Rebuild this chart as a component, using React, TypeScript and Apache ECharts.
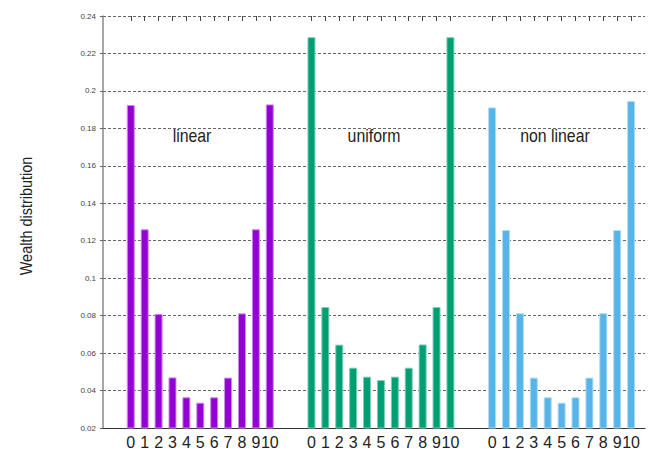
import React, { useEffect, useRef } from "react";
import * as echarts from "echarts";

const groupNames = ["linear", "uniform", "non linear"];
const yAxisTitle = "Wealth distribution";
const tickLabels = ["0", "1", "2", "3", "4", "5", "6", "7", "8", "9", "10"];
const linearValues = [0.1925, 0.1261, 0.0809, 0.047, 0.0364, 0.0335, 0.0364, 0.0469, 0.0812, 0.1261, 0.1928];
const uniformValues = [0.2287, 0.0846, 0.0645, 0.0522, 0.0474, 0.0456, 0.0474, 0.0522, 0.0646, 0.0846, 0.2287];
const nonLinearValues = [0.1912, 0.1257, 0.0813, 0.0469, 0.0364, 0.0335, 0.0364, 0.0469, 0.0813, 0.1257, 0.1946];
const yTicks = { min: 0.02, max: 0.24, step: 0.02 };
const colors = ["#9400D3", "#009E73", "#56B4E9"];
const borderColors = ["#c98ae8", "#7fcdb6", "#b0dbf5"];

// Layout of category slots: 2 empty, group, 2 empty, group, 2 empty, group, 1 empty
const LEAD = 2;
const GAP = 2;
const TRAIL = 1;

function buildCategories(): string[] {
  const cats: string[] = [];
  for (let i = 0; i < LEAD; i++) cats.push("");
  groupNames.forEach((_, g) => {
    tickLabels.forEach((t) => cats.push(t));
    if (g < groupNames.length - 1) for (let i = 0; i < GAP; i++) cats.push("");
  });
  for (let i = 0; i < TRAIL; i++) cats.push("");
  return cats;
}

function buildSeriesData(groupIndex: number, values: number[], total: number): (number | string)[] {
  const arr: (number | string)[] = new Array(total).fill("-");
  const start = LEAD + groupIndex * (tickLabels.length + GAP);
  values.forEach((v, i) => {
    arr[start + i] = v;
  });
  return arr;
}

export default function App() {
  const ref = useRef<HTMLDivElement>(null);
  useEffect(() => {
    if (!ref.current) return;
    const chart = echarts.init(ref.current, undefined, { renderer: "svg" });
    const categories = buildCategories();
    const allValues = [linearValues, uniformValues, nonLinearValues];
    const font = "'Liberation Sans', Arial, sans-serif";
    const tickFilter = (index: number) => categories[index] !== "";
    const groupLabelX = [192, 374, 555];

    chart.setOption({
      animation: false,
      backgroundColor: "#ffffff",
      grid: { left: 103, right: 15, top: 16, bottom: 27 },
      xAxis: [
        {
          type: "category",
          data: categories,
          boundaryGap: false,
          position: "bottom",
          axisLine: { show: true, lineStyle: { color: "#333", width: 1 } },
          axisTick: { show: false },
          axisLabel: {
            interval: 0,
            margin: 6,
            fontSize: 16,
            color: "#222",
            fontFamily: font,
          },
          splitLine: { show: false },
        },
        {
          type: "category",
          data: categories,
          boundaryGap: false,
          position: "top",
          axisLine: { show: false },
          axisTick: {
            show: true,
            inside: true,
            length: 5,
            interval: tickFilter,
            lineStyle: { color: "#444", width: 1 },
          },
          axisLabel: { show: false },
          splitLine: { show: false },
        },
      ],
      yAxis: {
        type: "value",
        min: yTicks.min,
        max: yTicks.max,
        interval: yTicks.step,
        axisLine: { show: true, lineStyle: { color: "#888", width: 1.5 } },
        axisTick: { show: true, length: 3, lineStyle: { color: "#666" } },
        axisLabel: {
          fontSize: 8,
          color: "#444",
          margin: 7,
          fontFamily: font,
          formatter: (v: number) => String(parseFloat(v.toFixed(2))),
        },
        splitLine: {
          show: true,
          lineStyle: { color: "#666", width: 1, type: [3, 2] },
        },
      },
      series: allValues.map((vals, g) => ({
        type: "bar",
        name: groupNames[g],
        xAxisIndex: 0,
        data: buildSeriesData(g, vals, categories.length),
        barWidth: 8,
        barGap: "-100%",
        itemStyle: { color: colors[g], borderColor: borderColors[g], borderWidth: 1 },
        z: 3,
      })),
      graphic: [
        ...groupNames.map((name, g) => ({
          type: "text",
          x: groupLabelX[g],
          y: 136.5,
          scaleX: 0.88,
          style: {
            text: name,
            fontSize: 18,
            fill: "#222",
            fontFamily: font,
            align: "center",
            verticalAlign: "middle",
          },
        })),
        {
          type: "text",
          x: 26,
          y: 216,
          rotation: Math.PI / 2,
          scaleX: 0.85,
          style: {
            text: yAxisTitle,
            fontSize: 17,
            fill: "#222",
            fontFamily: font,
            align: "center",
            verticalAlign: "middle",
          },
        },
      ],
    });
    return () => chart.dispose();
  }, []);
  return (
    <div
      ref={ref}
      style={{ position: "fixed", left: 0, top: 0, width: 660, height: 455 }}
    />
  );
}
